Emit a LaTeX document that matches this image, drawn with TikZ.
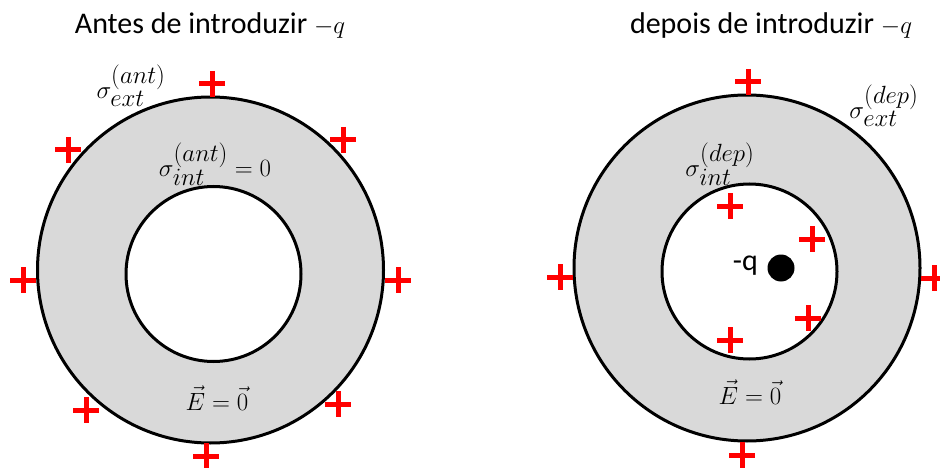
\documentclass[tikz,border=0pt]{standalone}
\usepackage{fontspec}
\setmainfont{Carlito}
\begin{document}
\begin{tikzpicture}[x=1pt,y=-1pt,
  ring/.style={fill=ringgray,draw=black,line width=3},
  hole/.style={fill=white,draw=black,line width=3},
  txt/.style={font=\fontsize{30}{34}\selectfont,inner sep=0},
  mlabel/.style={font=\fontsize{35}{38}\selectfont,inner sep=0},
  elabel/.style={font=\fontsize{29}{32}\selectfont,inner sep=0},
  plusmark/.pic={\draw[red,line width=5] (-13,0)--(13,0) (0,-13)--(0,13);}]
\definecolor{ringgray}{RGB}{217,217,217}
\useasboundingbox (0,0) rectangle (940,468);
% left ring
\coordinate (LO) at (210.5,270);
\coordinate (LI) at (213.5,274);
\draw[ring] (LO) circle (173);
\draw[hole] (LI) circle (87.5);
% right ring
\coordinate (RO) at (747,268);
\coordinate (RI) at (749.5,271.5);
\draw[ring] (RO) circle (173);
\draw[hole] (RI) circle (87.5);
% titles
\node[txt,anchor=base] (t1) at (210,34) {Antes de introduzir $-q$};
\node[txt,anchor=base] (t2) at (771,34) {depois de introduzir $-q$};
% left labels
\node[mlabel] (sel) at (131,86) {$\sigma^{(ant)}_{ext}$};
\node[mlabel] (sil) at (215,164) {$\sigma^{(ant)}_{int}=0$};
\node[elabel] (el) at (217,398) {$\vec{E}=\vec{0}$};
% right labels
\node[mlabel] (ser) at (884,106) {$\sigma^{(dep)}_{ext}$};
\node[mlabel] (sir) at (720,164) {$\sigma^{(dep)}_{int}$};
\node[elabel] (er) at (750,392) {$\vec{E}=\vec{0}$};
% charge
\node[circle,fill=black,minimum size=27,inner sep=0] (q) at (781,268) {};
\node[txt,anchor=east] (ql) at (758,266) {-q};
% plus signs, left
\foreach \p in {(212,84),(343,140),(68,150),(23,280),(398,280),(86,410),(338,404),(206,456)}
  \pic at \p {plusmark};
% plus signs, right
\foreach \p in {(748,82),(730,206),(812,239),(560,277),(934,278),(808,318),(730,340),(742,455)}
  \pic at \p {plusmark};
\end{tikzpicture}
\end{document}
